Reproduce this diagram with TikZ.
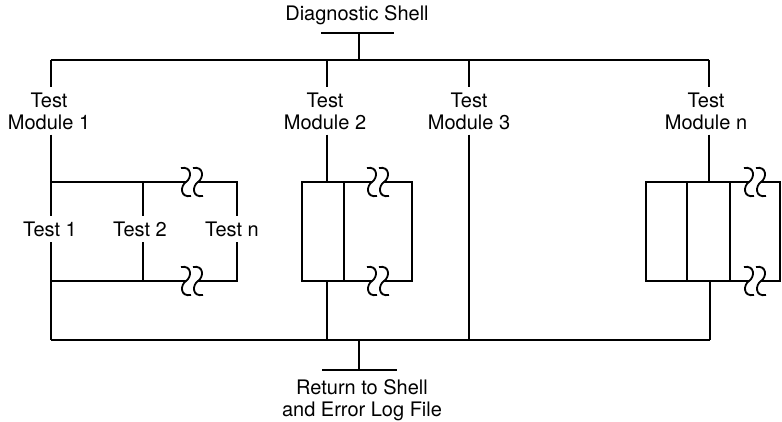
\documentclass[tikz,border=0pt]{standalone}
\usepackage{fontspec}
\setmainfont{TeX Gyre Heros}
\usetikzlibrary{calc}
\tikzset{
  lbl/.style={align=center,inner sep=0pt,font=\fontsize{20}{22}\selectfont},
  wire/.style={line width=1.8pt},
  brk/.pic={\draw[wire] (-5,-14) .. controls (6,-16) and (6,-4) .. (0,0)
    .. controls (-6,4) and (-6,16) .. (5,14);}
}

\begin{document}
\begin{tikzpicture}[x=1pt,y=-1pt]
\useasboundingbox (0,0) rectangle (782,422);
% shell and top bus
\node[lbl] (S) at (357,15) {Diagnostic Shell};
\coordinate (SL) at (321,33); \coordinate (SR) at (394,33);
\coordinate (Sb) at (359,33); \coordinate (Bs) at (359,60);
\coordinate (B1) at (51,60); \coordinate (B2) at (327,60);
\coordinate (B3) at (469,60); \coordinate (Bn) at (709,60);
\draw[wire] (SL) -- (SR);
\draw[wire] (Sb) -- (Bs);
\draw[wire] (B1) -- (Bn);
% module labels
\node[lbl,minimum height=47pt] (M1) at (49,111) {Test\\Module 1};
\node[lbl,minimum height=47pt] (M2) at (325,111) {Test\\Module 2};
\node[lbl,minimum height=47pt] (M3) at (469,111) {Test\\Module 3};
\node[lbl,minimum height=47pt] (Mn) at (706,111) {Test\\Module n};
\draw[wire] (B1) -- (B1 |- M1.north);
\draw[wire] (B2) -- (B2 |- M2.north);
\draw[wire] (B3) -- (B3 |- M3.north);
\draw[wire] (Bn) -- (Bn |- Mn.north);
% bottom bus
\coordinate (C1) at (51,340); \coordinate (C2) at (327,340);
\coordinate (C3) at (469,340); \coordinate (Cn) at (710,340);
\coordinate (Cr) at (359,340); \coordinate (Rb) at (359,370);
\coordinate (RL) at (322,370); \coordinate (RR) at (397,370);
\draw[wire] (C1) -- (Cn);
\draw[wire] (Cr) -- (Rb);
\draw[wire] (RL) -- (RR);
\node[lbl] (R) at (362,400) {Return to Shell\\and Error Log File};
% module 1
\coordinate (T1a) at (51,182); \coordinate (T2a) at (143,182); \coordinate (Tna) at (237,182);
\coordinate (T1b) at (51,281); \coordinate (T2b) at (143,281); \coordinate (Tnb) at (237,281);
\coordinate (K1L) at (186,182); \coordinate (K1R) at (198,182);
\coordinate (K2L) at (186,281); \coordinate (K2R) at (198,281);
\node[lbl,minimum height=26pt] (T1) at (50,229) {Test 1};
\node[lbl,minimum height=26pt] (T2) at (140,229) {Test 2};
\node[lbl,minimum height=26pt] (Tn) at (232,229) {Test n};
\draw[wire] (B1 |- M1.south) -- (T1a) -- (T1a |- T1.north);
\draw[wire] (T1b |- T1.south) -- (T1b) -- (C1);
\draw[wire] (T1a) -- (K1L);
\draw[wire] (K1R) -- (Tna) -- (Tna |- Tn.north);
\draw[wire] (T1b) -- (K2L);
\draw[wire] (K2R) -- (Tnb) -- (Tnb |- Tn.south);
\draw[wire] (T2a) -- (T2a |- T2.north);
\draw[wire] (T2b) -- (T2b |- T2.south);
\pic at (K1L) {brk}; \pic at (K1R) {brk};
\pic at (K2L) {brk}; \pic at (K2R) {brk};
% module 2
\coordinate (P2a) at (327,182); \coordinate (P2b) at (327,281);
\coordinate (L2a) at (302,182); \coordinate (L2b) at (302,281);
\coordinate (D2a) at (344,182); \coordinate (D2b) at (344,281);
\coordinate (E2a) at (412,182); \coordinate (E2b) at (412,281);
\coordinate (K3L) at (372,182); \coordinate (K3R) at (384,182);
\coordinate (K4L) at (372,281); \coordinate (K4R) at (384,281);
\draw[wire] (B2 |- M2.south) -- (P2a);
\draw[wire] (K3L) -- (L2a) -- (L2b) -- (K4L);
\draw[wire] (K3R) -- (E2a) -- (E2b) -- (K4R);
\draw[wire] (D2a) -- (D2b);
\draw[wire] (P2b) -- (C2);
\pic at (K3L) {brk}; \pic at (K3R) {brk};
\pic at (K4L) {brk}; \pic at (K4R) {brk};
% module 3
\draw[wire] (B3 |- M3.south) -- (C3);
% module n
\coordinate (Pna) at (709,182); \coordinate (Pnb) at (710,281);
\coordinate (Lna) at (646,182); \coordinate (Lnb) at (646,281);
\coordinate (Dna) at (687,182); \coordinate (Dnb) at (687,281);
\coordinate (Fna) at (730,182); \coordinate (Fnb) at (730,281);
\coordinate (Ena) at (780,182); \coordinate (Enb) at (780,281);
\coordinate (K5L) at (749,182); \coordinate (K5R) at (761,182);
\coordinate (K6L) at (749,281); \coordinate (K6R) at (761,281);
\draw[wire] (Bn |- Mn.south) -- (Pna);
\draw[wire] (K5L) -- (Lna) -- (Lnb) -- (K6L);
\draw[wire] (K5R) -- (Ena) -- (Enb) -- (K6R);
\draw[wire] (Dna) -- (Dnb);
\draw[wire] (Fna) -- (Fnb);
\draw[wire] (Pnb) -- (Cn);
\pic at (K5L) {brk}; \pic at (K5R) {brk};
\pic at (K6L) {brk}; \pic at (K6R) {brk};
\end{tikzpicture}
\end{document}
